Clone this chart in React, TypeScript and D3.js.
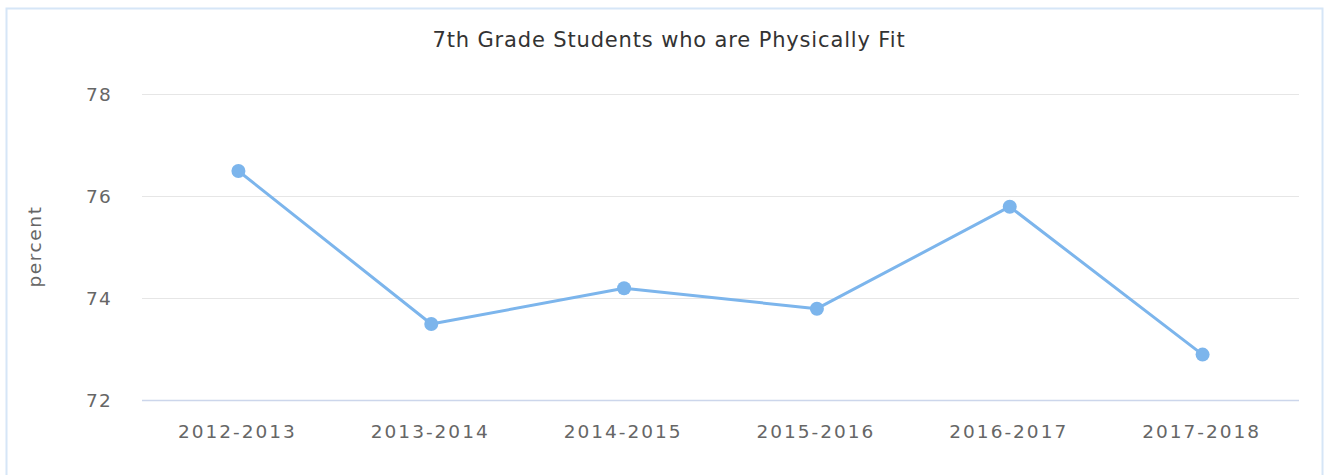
import React from "react";
import * as d3 from "d3";

const categories = ["2012-2013", "2013-2014", "2014-2015", "2015-2016", "2016-2017", "2017-2018"];
const values = [76.5, 73.5, 74.2, 73.8, 75.8, 72.9];
const yTicks = [72, 74, 76, 78];
const title = "7th Grade Students who are Physically Fit";
const yLabel = "percent";

export default function App() {
  const W = 1328, H = 475;
  const left = 142, right = 1299, top = 94.5, bottom = 400.5;
  const x = d3.scaleBand<string>().domain(categories).range([left, right]);
  const y = d3.scaleLinear().domain([72, 78]).range([bottom, top]);
  const line = d3.line<number>()
    .x((_, i) => x(categories[i])! + x.bandwidth() / 2)
    .y((d) => y(d));
  const font = "'DejaVu Sans', Verdana, sans-serif";
  return (
    <svg width={W} height={H} style={{ position: "absolute", left: 0, top: 0, fontFamily: font }}>
      <rect x={0} y={0} width={W} height={H} fill="#fff" />
      <rect x={6.5} y={8.5} width={1316} height={480} fill="#fff" stroke="#d6e6f7" strokeWidth={2} />
      <text x={669} y={47} textAnchor="middle" fontSize={21} letterSpacing={0.85} fill="#333">{title}</text>
      {yTicks.map((t) => (
        <g key={t}>
          {t !== 72 && <line x1={left} x2={right} y1={y(t)} y2={y(t)} stroke="#e6e6e6" strokeWidth={1} />}
          <text x={112} y={y(t) + 6.5} textAnchor="end" fontSize={18.5} letterSpacing={1.2} fill="#666">{t}</text>
        </g>
      ))}
      <line x1={left} x2={right} y1={bottom} y2={bottom} stroke="#ccd6eb" strokeWidth={1.5} />
      <text transform={`translate(41,${(top + bottom) / 2 - 1}) rotate(-90)`} textAnchor="middle" fontSize={18.5} letterSpacing={1.6} fill="#666">{yLabel}</text>
      {categories.map((c) => (
        <text key={c} x={x(c)! + x.bandwidth() / 2 - 1} y={438} textAnchor="middle" fontSize={18.5} letterSpacing={2.0} fill="#666">{c}</text>
      ))}
      <path d={line(values) || ""} fill="none" stroke="#7cb5ec" strokeWidth={3} strokeLinejoin="round" strokeLinecap="round" />
      {values.map((v, i) => (
        <circle key={i} cx={x(categories[i])! + x.bandwidth() / 2} cy={y(v)} r={7} fill="#7cb5ec" />
      ))}
    </svg>
  );
}
